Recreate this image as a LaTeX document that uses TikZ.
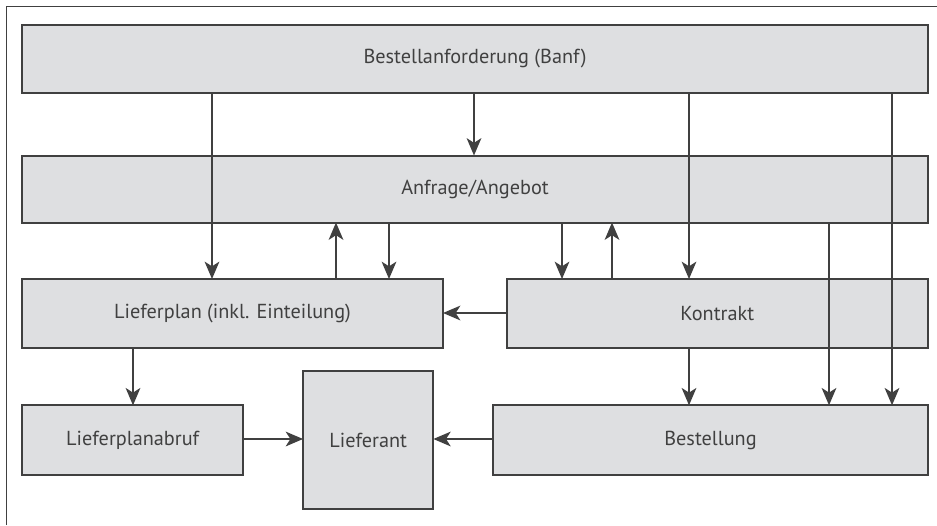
\documentclass[tikz,border=0pt]{standalone}
\usepackage{fontspec}
\setmainfont{PT Sans}
\usetikzlibrary{arrows.meta}
\definecolor{boxfill}{HTML}{DEDFE1}
\definecolor{ink}{HTML}{404040}
\begin{document}
\begin{tikzpicture}[x=0.75pt,y=-0.75pt,
  box/.style={draw=ink,fill=boxfill,line width=1.5pt,inner sep=0pt,outer sep=0pt,
    text=ink,font=\fontsize{15.2}{17}\selectfont},
  arr/.style={draw=ink,line width=1.5pt,-{Stealth[length=13pt,width=11pt,inset=3.5pt]}},
  frame/.style={draw=ink,line width=1.2pt}]
\useasboundingbox (0,0) rectangle (937,525);
\coordinate (fa) at (6.5,525);
\coordinate (fb) at (6.5,6.5);
\coordinate (fc) at (937,6.5);
\draw[frame] (fa) -- (fb) -- (fc);

\node[box,minimum width=679.5pt,minimum height=51pt] (banf) at (475,59) {Bestellanforderung (Banf)};
\node[box,minimum width=679.5pt,minimum height=50.25pt] (anf) at (475,189) {Anfrage/Angebot};
\node[box,minimum width=315.75pt,minimum height=51.75pt] (lp) at (232.5,313.5) {Lieferplan (inkl. Einteilung)};
\node[box,minimum width=316.1pt,minimum height=51.75pt] (kon) at (717.25,313.5) {Kontrakt};
\node[box,minimum width=166pt,minimum height=52.5pt] (lpa) at (132.7,440.3) {Lieferplanabruf};
\node[box,minimum width=97.7pt,minimum height=104pt] (lief) at (368.2,440) {Lieferant};
\node[box,minimum width=325.8pt,minimum height=52.5pt] (best) at (710.5,440.3) {Bestellung};

\coordinate (x133) at (133,0);
\coordinate (x212) at (212,0);
\coordinate (x336) at (336,0);
\coordinate (x389) at (389,0);
\coordinate (x474) at (474,0);
\coordinate (x562) at (562,0);
\coordinate (x612) at (612,0);
\coordinate (x689) at (689,0);
\coordinate (x829) at (829,0);
\coordinate (x892) at (892,0);
\coordinate (y313) at (0,313);
\coordinate (y439) at (0,439);

\draw[arr] (banf.south -| x474) -- (anf.north -| x474);
\draw[arr] (banf.south -| x212) -- (lp.north -| x212);
\draw[arr] (banf.south -| x689) -- (kon.north -| x689);
\draw[arr] (banf.south -| x892) -- (best.north -| x892);
\draw[arr] (lp.north -| x336) -- (anf.south -| x336);
\draw[arr] (anf.south -| x389) -- (lp.north -| x389);
\draw[arr] (anf.south -| x562) -- (kon.north -| x562);
\draw[arr] (kon.north -| x612) -- (anf.south -| x612);
\draw[arr] (anf.south -| x829) -- (best.north -| x829);
\draw[arr] (kon.south -| x689) -- (best.north -| x689);
\draw[arr] (kon.west |- y313) -- (lp.east |- y313);
\draw[arr] (lp.south -| x133) -- (lpa.north -| x133);
\draw[arr] (lpa.east |- y439) -- (lief.west |- y439);
\draw[arr] (best.west |- y439) -- (lief.east |- y439);
\end{tikzpicture}
\end{document}
